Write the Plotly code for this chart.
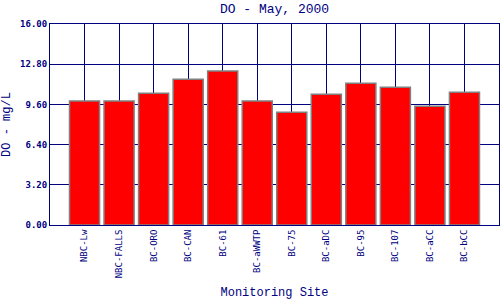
import plotly.graph_objects as go

sites = ["NBC-Lw", "NBC-FALLS", "BC-ORO", "BC-CAN", "BC-61", "BC-aWWTP",
         "BC-75", "BC-aDC", "BC-95", "BC-107", "BC-aCC", "BC-bCC"]
do_values = [9.87, 9.87, 10.48, 11.6, 12.26, 9.87, 8.97, 10.4, 11.28, 10.96, 9.45, 10.56]
y_ticks = [0, 3.2, 6.4, 9.6, 12.8, 16.0]

navy = "#000080"
xpos = list(range(1, len(sites) + 1))

fig = go.Figure(go.Bar(
    x=xpos, y=do_values, width=0.87,
    marker=dict(color="#ff0000", line=dict(color="#808080", width=1.5)),
))

fig.update_layout(
    width=500, height=300,
    margin=dict(l=50, r=1, t=24, b=75),
    paper_bgcolor="white", plot_bgcolor="white",
    showlegend=False,
    title=dict(text="DO - May, 2000", x=0.549, xanchor="center", y=0.987, yanchor="top",
               font=dict(family="Liberation Mono", size=13, color=navy, weight="normal")),
    font=dict(family="DejaVu Sans Mono", color=navy),
)
fig.update_xaxes(
    range=[0, len(sites) + 1], tickmode="array", tickvals=xpos, ticktext=sites,
    tickangle=-90, tickfont=dict(size=9, color=navy, family="DejaVu Sans Mono"),
    showgrid=True, gridcolor=navy, gridwidth=1,
    showline=True, linecolor=navy, linewidth=1, mirror=True, ticks="",
    title=dict(text="Monitoring Site", font=dict(size=12, color=navy, family="Liberation Mono"), standoff=13),
    zeroline=False,
)
fig.update_yaxes(
    range=[0, 16], tickmode="array", tickvals=y_ticks,
    ticktext=[f"{v:.2f}" for v in y_ticks],
    tickfont=dict(size=9, color=navy, family="DejaVu Sans Mono", weight="bold"),
    showgrid=True, gridcolor=navy, gridwidth=1,
    showline=True, linecolor=navy, linewidth=1, mirror=True, ticks="",
    title=dict(text="DO - mg/L", font=dict(size=12, color=navy, family="Liberation Mono"), standoff=6),
    zeroline=False,
)
fig.update_traces(cliponaxis=True)
fig.write_html("out.html")
